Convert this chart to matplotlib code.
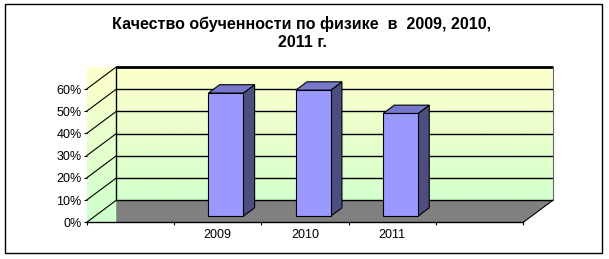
import numpy as np
import matplotlib
matplotlib.use("Agg")
import matplotlib.pyplot as plt
from matplotlib.patches import Polygon, Rectangle
from matplotlib.colors import LinearSegmentedColormap
from matplotlib.ticker import PercentFormatter

plt.rcParams["font.family"] = ["Liberation Sans", "DejaVu Sans"]

title = "Качество обученности по физике  в  2009, 2010,\n2011 г."
categories = ["", "2009", "2010", "2011", ""]
values = [np.nan, 0.554, 0.567, 0.462, np.nan]
y_ticks = [0.0, 0.1, 0.2, 0.3, 0.4, 0.5, 0.6]

W, H = 609, 259
fig = plt.figure(figsize=(W / 100, H / 100), dpi=100)
fig.patch.set_facecolor("white")

# front plane of the 3-D box, in pixels
x0, x1 = 86.7, 523.3
y0, y1 = 222.3, 89.0
ax = fig.add_axes([x0 / W, 1 - y0 / H, (x1 - x0) / W, (y0 - y1) / H])
n = len(categories)
ymax = y_ticks[-1]
ax.set_xlim(0, n)
ax.set_ylim(0, ymax)

# depth vector in data units
DX = 29.5 / ((x1 - x0) / n)
DY = 22.0 / ((y0 - y1) / ymax)

# walls with vertical gradient
cmap = LinearSegmentedColormap.from_list("wall", ["#CCFFCC", "#FFFFCC"])
grad = np.linspace(0, 1, 256).reshape(-1, 1)
im = ax.imshow(grad, cmap=cmap, origin="lower", aspect="auto",
               extent=[0, n + DX, 0, ymax + DY], zorder=0)
clip = Polygon([(0, 0), (n, 0), (n + DX, DY), (n + DX, ymax + DY), (0, ymax + DY)],
               closed=True, transform=ax.transData, facecolor="none", edgecolor="none")
im.set_clip_path(clip)
im.set_clip_box(fig.bbox)
ax.set_xlim(0, n)
ax.set_ylim(0, ymax)

# floor
floor = Polygon([(DX, 0), (n, 0), (n + DX, DY), (DX, DY)], closed=True,
                facecolor="#808080", edgecolor="none", zorder=1, clip_on=False)
ax.add_patch(floor)

# gridlines on back wall and side wall
for t in y_ticks:
    lw = 2.0 if t == ymax else 1.0
    ax.plot([DX, n + DX], [t + DY, t + DY], color="black", lw=lw, zorder=2,
            clip_on=False, solid_capstyle="butt")
    ax.plot([0, DX], [t, t + DY], color="black", lw=0.8, zorder=2, clip_on=False)
ax.plot([DX, DX], [DY, ymax + DY], color="black", lw=1.0, zorder=2, clip_on=False)
ax.plot([n + DX, n + DX], [DY, ymax + DY], color="#666666", lw=0.8, zorder=2, clip_on=False)
ax.plot([n, n + DX], [0, DY], color="black", lw=0.8, zorder=2, clip_on=False)

# bars
front_d, bar_d = 0.28, 0.38
width = 0.4
xs = np.arange(n) + 0.5 + front_d * DX
base = front_d * DY
for x, v in zip(xs, values):
    if np.isnan(v):
        continue
    ax.bar(x, v, width=width, bottom=base, color="#9999FF", edgecolor="black",
           linewidth=0.8, zorder=4, clip_on=False)
    top = base + v
    r, l = x + width / 2, x - width / 2
    ddx, ddy = bar_d * DX, bar_d * DY
    ax.add_patch(Polygon([(r, base), (r + ddx, base + ddy), (r + ddx, top + ddy), (r, top)],
                         closed=True, facecolor="#4D4D80", edgecolor="black",
                         linewidth=0.8, zorder=3, clip_on=False))
    ax.add_patch(Polygon([(l, top), (r, top), (r + ddx, top + ddy), (l + ddx, top + ddy)],
                         closed=True, facecolor="#7777CC", edgecolor="black",
                         linewidth=0.8, zorder=3, clip_on=False))

# axes
for side in ["left", "right", "top"]:
    ax.spines[side].set_visible(False)
ax.spines["bottom"].set_linewidth(1.0)
ax.spines["bottom"].set_zorder(5)
ax.set_yticks(y_ticks)
ax.yaxis.set_major_formatter(PercentFormatter(1.0, decimals=0))
ax.tick_params(axis="y", length=2.2, width=0.8, pad=1.5, labelsize=9, direction="out")
ax.set_xticks(np.arange(n + 1))
ax.set_xticklabels([])
ax.set_xticks(np.arange(n) + 0.5, minor=True)
ax.set_xticklabels(categories, minor=True)
ax.tick_params(axis="x", which="major", length=2.5, width=0.8, direction="out")
ax.tick_params(axis="x", which="minor", length=0, pad=5, labelsize=9)
ax.set_facecolor("none")

fig.text(302 / W, 1 - 33 / H, title, ha="center", va="center", fontsize=11.5,
         fontweight="bold", linespacing=1.3)

fig.add_artist(Rectangle((5 / W, 1 - 253 / H), 597 / W, 249 / H, transform=fig.transFigure,
                         facecolor="none", edgecolor="black", linewidth=1.0))

fig.savefig("out.png", dpi=100)
